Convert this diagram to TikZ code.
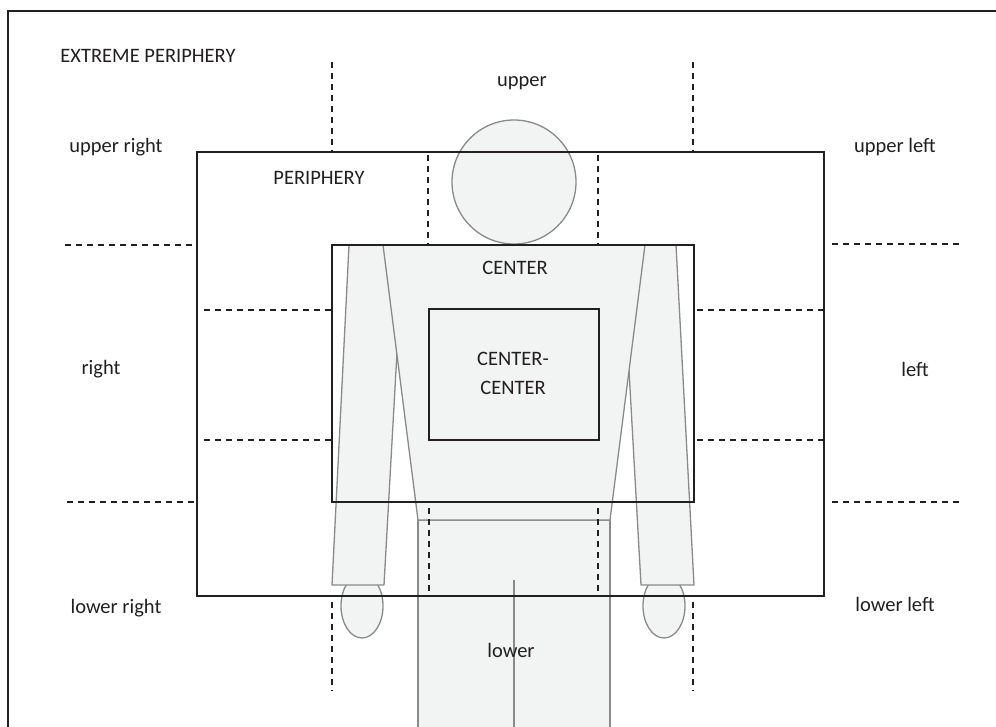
\documentclass[tikz,border=0pt]{standalone}
\usepackage{fontspec}
\setmainfont{Carlito}
\definecolor{ink}{HTML}{231F20}
\definecolor{bodyfill}{HTML}{F2F3F3}
\definecolor{bodyline}{HTML}{8A8A8A}
\begin{document}
\begin{tikzpicture}[x=1pt,y=-1pt,
  frame/.style={draw=ink,line width=1.5pt},
  zone/.style={draw=ink,dash pattern=on 6pt off 5pt,line width=1.4pt},
  part/.style={fill=bodyfill,draw=bodyline,line width=1.3pt,line join=round},
  lbl/.style={text=ink,font=\fontsize{20.5}{29}\selectfont,inner sep=0pt,align=center}]
\useasboundingbox (0,0) rectangle (996,727);
\clip (0,0) rectangle (996,727);
% body
\draw[part] (362,606) ellipse [x radius=21,y radius=32];
\draw[part] (664,606) ellipse [x radius=21,y radius=32];
\draw[part] (349,245) -- (403,245) -- (384,585) -- (332,585) -- cycle;
\draw[part] (622,245) -- (676,245) -- (694,585) -- (641,585) -- cycle;
\draw[part] (418,520) rectangle (610,740);
\draw[part] (383,245) -- (645,245) -- (610,520) -- (418,520) -- cycle;
\draw[part] (514,182) circle [radius=62];
\draw[draw=bodyline,line width=1.3pt] (514,580) -- (514,740);
% frames
\draw[frame] (8,740) -- (8,11) -- (1000,11);
\draw[frame] (197,152) rectangle (824,596);
\draw[frame] (332,245) rectangle (694,502);
\draw[frame] (429,309) rectangle (599,440);
% dashed zone lines
\draw[zone] (332,62) -- (332,152);
\draw[zone] (693,62) -- (693,152);
\draw[zone] (428,155) -- (428,245);
\draw[zone] (598,155) -- (598,245);
\draw[zone] (65,245) -- (196,245);
\draw[zone] (832,244) -- (962,244);
\draw[zone] (204,310) -- (332,310);
\draw[zone] (697,310) -- (828,310);
\draw[zone] (204,440) -- (332,440);
\draw[zone] (697,440) -- (828,440);
\draw[zone] (67,502) -- (196,502);
\draw[zone] (832,502) -- (962,502);
\draw[zone] (429,508) -- (429,596);
\draw[zone] (598,508) -- (598,596);
\draw[zone] (332,602) -- (332,691);
\draw[zone] (693,602) -- (693,691);
% labels
\node[lbl] (ext) at (148,56) {EXTREME PERIPHERY};
\node[lbl] (up) at (522,83) {upper};
\node[lbl] (ur) at (116,147) {upper right};
\node[lbl] (ul) at (895,147) {upper left};
\node[lbl] (per) at (319,178) {PERIPHERY};
\node[lbl] (cen) at (515,268) {CENTER};
\node[lbl] (cc) at (513,373) {CENTER-\\CENTER};
\node[lbl] (r) at (101,369) {right};
\node[lbl] (l) at (915,369) {left};
\node[lbl] (lr) at (116,608) {lower right};
\node[lbl] (ll) at (895,604) {lower left};
\node[lbl] (low) at (511,650) {lower};
\end{tikzpicture}
\end{document}
